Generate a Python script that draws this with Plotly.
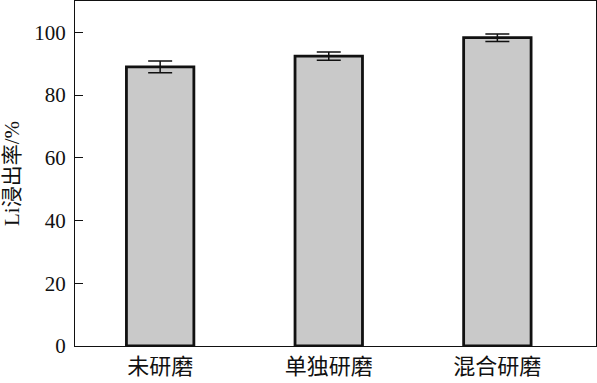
import plotly.graph_objects as go

categories = ["未研磨", "单独研磨", "混合研磨"]
values = [89.0, 92.4, 98.3]
errors = [1.9, 1.3, 1.2]
y_ticks = [0, 20, 40, 60, 80, 100]

font_family = "Liberation Serif, Times New Roman, Noto Sans CJK SC, serif"

fig = go.Figure()
fig.add_trace(go.Bar(
    x=list(range(len(categories))),
    y=values,
    width=0.40,
    marker=dict(color="#c9c9c9", line=dict(color="#111111", width=2.8)),
    error_y=dict(type="data", array=errors, visible=True, color="#111111",
                 thickness=1.5, width=12),
))

fig.update_layout(
    width=597, height=383,
    margin=dict(l=75, r=1, t=1, b=37),
    paper_bgcolor="white", plot_bgcolor="white",
    showlegend=False,
    font=dict(family=font_family, color="#111111", size=21),
    xaxis=dict(
        range=[-0.505, 2.585],
        tickmode="array", tickvals=list(range(len(categories))), ticktext=categories,
        showline=True, linecolor="#111111", linewidth=1.2, mirror=True,
        ticks="", showgrid=False, zeroline=False,
        tickfont=dict(size=22, family=font_family),
    ),
    yaxis=dict(
        range=[0, 110],
        tickmode="array", tickvals=y_ticks,
        showline=True, linecolor="#111111", linewidth=1.2, mirror=True,
        ticks="inside", ticklen=8, tickcolor="#111111", tickwidth=1.2,
        showgrid=False, zeroline=False,
        tickfont=dict(size=21, family=font_family),
        ticklabelstandoff=4,
        title=dict(text="Li浸出率/%", font=dict(size=21, family=font_family), standoff=10),
    ),
)

fig.write_html("out.html")
